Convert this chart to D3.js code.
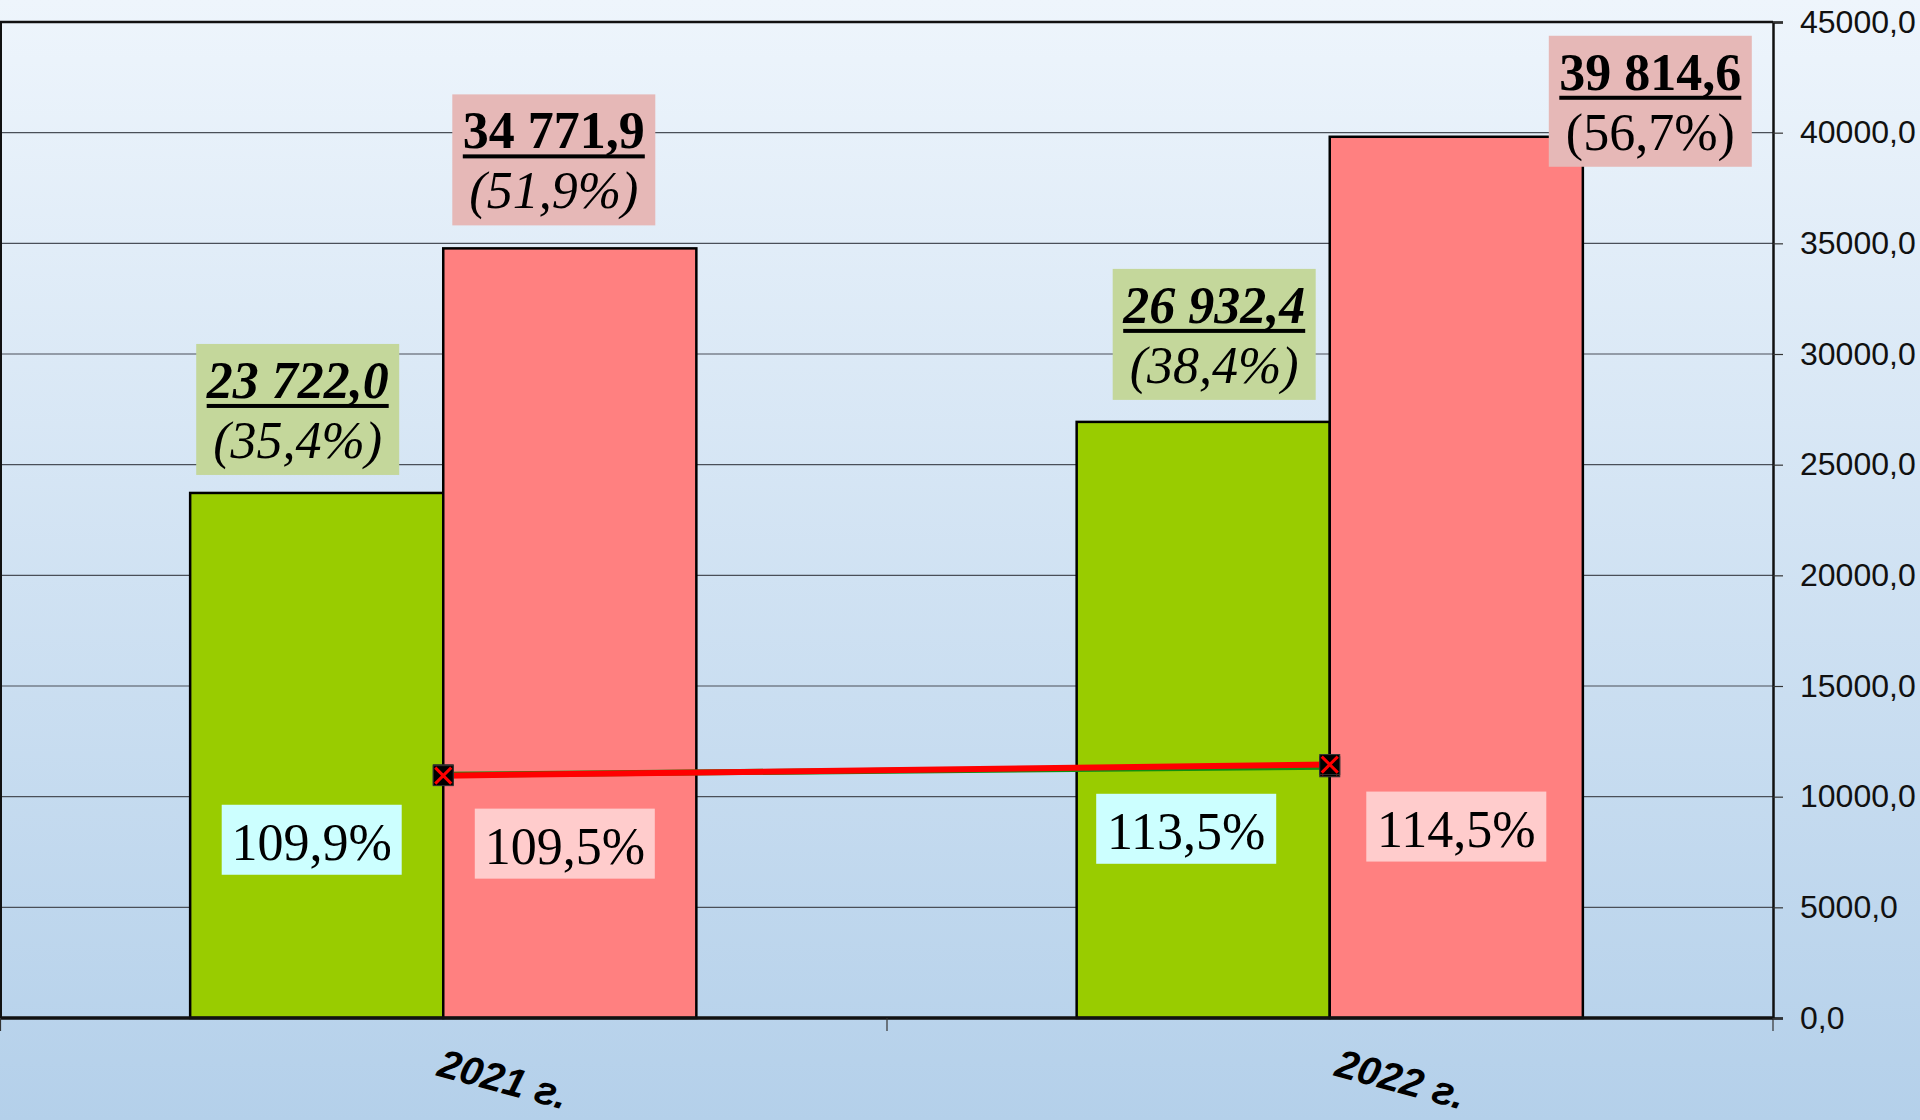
<!DOCTYPE html>
<html>
<head>
<meta charset="utf-8">
<script src="https://cdn.jsdelivr.net/npm/d3@7"></script>
<style>
  body { margin: 0; overflow: hidden; }
  svg { display: block; }
</style>
</head>
<body>
<div id="chart"></div>
<script>
// values
const categories = ["2021 г.", "2022 г."];
const greenValues = [23722.0, 26932.4];
const redValues = [34771.9, 39814.6];
const greenShares = [35.4, 38.4];
const redShares = [51.9, 56.7];
const greenGrowth = [109.9, 113.5];
const redGrowth = [109.5, 114.5];
const yTicks = [0, 5000, 10000, 15000, 20000, 25000, 30000, 35000, 40000, 45000];

// placement of the hand-moved labels (offsets from their bar)
const valueLabelLayout = [
    { series: "green", i: 0, dx: -19, dy: -18, italic1: true, italic2: true },
    { series: "red", i: 0, dx: -16, dy: -23, italic1: false, italic2: true },
    { series: "green", i: 1, dx: 11, dy: -22, italic1: true, italic2: true },
    { series: "red", i: 1, dx: 194, dy: 30, italic1: false, italic2: false }
];
const growthLabelLayout = [
    { series: "green", i: 0, dx: -5, dy: 65 },
    { series: "red", i: 0, dx: -5, dy: 68 },
    { series: "green", i: 1, dx: -17, dy: 62 },
    { series: "red", i: 1, dx: 0, dy: 62 }
];
const catLabelDx = [60, 71];

var margin = { top: 22, right: 147, bottom: 102, left: 0 },
    width = 1920 - margin.left - margin.right,
    height = 1120 - margin.top - margin.bottom;

const colors = { green: "#99cc00", red: "#ff8080" };
const boxColors = { green: "#c4d79b", red: "#e6b8b7" };
const growthBoxColors = { green: "#ccffff", red: "#ffcccc" };

const serif = "'Liberation Serif', 'Times New Roman', serif";
const sans = "'Liberation Sans', Arial, sans-serif";

const ru = d3.formatLocale({ decimal: ",", thousands: " ", grouping: [3], currency: ["", ""] });
const fmtValue = ru.format(",.1f");
const fmtTick = ru.format(".1f");

const root = d3.select("#chart").append("svg")
    .attr("width", 1920)
    .attr("height", 1120);

// background gradient over the whole picture
const grad = root.append("defs").append("linearGradient")
    .attr("id", "bg").attr("x1", 0).attr("y1", 0).attr("x2", 0).attr("y2", 1);
grad.append("stop").attr("offset", "0%").attr("stop-color", "#eef5fc");
grad.append("stop").attr("offset", "100%").attr("stop-color", "#b4d0ea");
root.append("rect").attr("width", 1920).attr("height", 1120).attr("fill", "url(#bg)");

const svg = root.append("g")
    .attr("transform", "translate(" + margin.left + "," + margin.top + ")");

const x0 = d3.scaleBand()
    .domain(categories)
    .range([0, width])
    .paddingInner(0.429)
    .paddingOuter(0.2145);

const x1 = d3.scaleBand()
    .domain(["green", "red"])
    .range([0, x0.bandwidth()]);

const y = d3.scaleLinear()
    .domain([0, 45000])
    .range([height, 0]);

// hidden secondary axis for the growth lines
const y2 = d3.scaleLinear()
    .domain([0, 450])
    .range([height, 0]);

// gridlines
svg.append("g")
    .selectAll("line")
    .data(yTicks.filter(d => d > 0 && d < 45000))
    .join("line")
    .attr("x1", 0).attr("x2", width)
    .attr("y1", d => y(d)).attr("y2", d => y(d))
    .attr("stroke", "#4a4f58")
    .attr("stroke-width", 1.2);

// plot frame: top and left
svg.append("line").attr("x1", 0).attr("x2", width).attr("y1", 0).attr("y2", 0)
    .attr("stroke", "#111").attr("stroke-width", 2.5);
svg.append("line").attr("x1", 1).attr("x2", 1).attr("y1", 0).attr("y2", height)
    .attr("stroke", "#111").attr("stroke-width", 2);

// right value axis
const yAxis = d3.axisRight(y)
    .tickValues(yTicks)
    .tickSize(10)
    .tickPadding(17)
    .tickFormat(fmtTick);
const yAxisGroup = svg.append("g")
    .attr("transform", "translate(" + width + ",0)")
    .call(yAxis);
yAxisGroup.select(".domain").attr("stroke", "#111").attr("stroke-width", 2.5);
yAxisGroup.selectAll(".tick line").attr("stroke", "#333").attr("stroke-width", 1.2);
yAxisGroup.selectAll(".tick text")
    .style("font-family", sans)
    .style("font-size", "32px")
    .attr("fill", "#111");

// bars
const barData = [];
categories.forEach((c, i) => {
    barData.push({ cat: c, key: "green", value: greenValues[i], i: i });
    barData.push({ cat: c, key: "red", value: redValues[i], i: i });
});

svg.append("g")
    .selectAll("rect")
    .data(barData)
    .join("rect")
    .attr("x", d => x0(d.cat) + x1(d.key))
    .attr("y", d => y(d.value))
    .attr("width", x1.bandwidth())
    .attr("height", d => height - y(d.value))
    .attr("fill", d => colors[d.key])
    .attr("stroke", "#000")
    .attr("stroke-width", 2.5);

// category axis at the bottom, ticks between the categories
const xTicks = svg.append("g").attr("transform", "translate(0," + height + ")");
xTicks.append("line").attr("x1", 0).attr("x2", width).attr("y1", 0).attr("y2", 0)
    .attr("stroke", "#111").attr("stroke-width", 3.5);
xTicks.selectAll(".cattick")
    .data(d3.range(categories.length + 1).map(k => Math.min(k * x0.step(), width - 0.5)))
    .join("line")
    .attr("class", "cattick")
    .attr("x1", d => d + 0.5).attr("x2", d => d + 0.5)
    .attr("y1", 0).attr("y2", 13)
    .attr("stroke", "#333").attr("stroke-width", 1.2);

xTicks.selectAll(".catlabel")
    .data(categories)
    .join("text")
    .attr("class", "catlabel")
    .attr("transform", (d, i) => "translate(" + (x0(d) + x0.bandwidth() / 2 + catLabelDx[i]) + ",61) rotate(15)")
    .attr("text-anchor", "middle")
    .attr("dy", "0.35em")
    .style("font-family", sans)
    .style("font-size", "40px")
    .style("font-weight", "bold")
    .style("font-style", "italic")
    .attr("fill", "#000")
    .text(d => d);

// growth lines (green under red)
const cx = c => x0(c) + x0.bandwidth() / 2;
const lineGen = d3.line().x(d => cx(d.cat)).y(d => y2(d.v));
const greenPts = categories.map((c, i) => ({ cat: c, v: greenGrowth[i] }));
const redPts = categories.map((c, i) => ({ cat: c, v: redGrowth[i] }));

svg.append("path").datum(greenPts).attr("d", lineGen)
    .attr("fill", "none").attr("stroke", "#109010").attr("stroke-width", 6);
svg.append("path").datum(redPts).attr("d", lineGen)
    .attr("fill", "none").attr("stroke", "#ff0000").attr("stroke-width", 6);

const markers = svg.append("g")
    .selectAll("g")
    .data(greenPts.concat(redPts))
    .join("g")
    .attr("transform", d => "translate(" + cx(d.cat) + "," + y2(d.v) + ")");
markers.append("rect")
    .attr("x", -10).attr("y", -10).attr("width", 20).attr("height", 20)
    .attr("fill", "#000").attr("stroke", "#333").attr("stroke-width", 1);
markers.append("path")
    .attr("d", "M-8,-8L8,8M8,-8L-8,8")
    .attr("stroke", "#ff0000").attr("stroke-width", 3);

// value labels with share
const valueLabels = svg.append("g")
    .selectAll("g")
    .data(valueLabelLayout)
    .join("g")
    .attr("transform", d => {
        const v = d.series === "green" ? greenValues[d.i] : redValues[d.i];
        const bx = x0(categories[d.i]) + x1(d.series) + x1.bandwidth() / 2 + d.dx;
        return "translate(" + (bx - 101.5) + "," + (y(v) + d.dy - 131) + ")";
    });
valueLabels.append("rect")
    .attr("width", 203).attr("height", 131)
    .attr("fill", d => boxColors[d.series]);
valueLabels.append("text")
    .attr("class", "v1")
    .attr("x", 101.5).attr("y", 54)
    .attr("text-anchor", "middle")
    .style("font-family", serif)
    .style("font-size", "52px")
    .style("font-weight", "bold")
    .style("font-style", d => d.italic1 ? "italic" : "normal")
    .text(d => fmtValue(d.series === "green" ? greenValues[d.i] : redValues[d.i]));
valueLabels.each(function () {
    const g = d3.select(this);
    const len = g.select("text.v1").node().getComputedTextLength();
    g.append("rect")
        .attr("x", 101.5 - len / 2).attr("y", 60)
        .attr("width", len).attr("height", 4)
        .attr("fill", "#000");
});
valueLabels.append("text")
    .attr("x", 101.5).attr("y", 114)
    .attr("text-anchor", "middle")
    .style("font-family", serif)
    .style("font-size", "52px")
    .style("font-style", d => d.italic2 ? "italic" : "normal")
    .text(d => "(" + ru.format(".1f")(d.series === "green" ? greenShares[d.i] : redShares[d.i]) + "%)");

// growth labels inside the bars
const growthLabels = svg.append("g")
    .selectAll("g")
    .data(growthLabelLayout)
    .join("g")
    .attr("transform", d => {
        const v = d.series === "green" ? greenGrowth[d.i] : redGrowth[d.i];
        const bx = x0(categories[d.i]) + x1(d.series) + x1.bandwidth() / 2 + d.dx;
        return "translate(" + (bx - 90) + "," + (y2(v) + d.dy - 35) + ")";
    });
growthLabels.append("rect")
    .attr("width", 180).attr("height", 70)
    .attr("fill", d => growthBoxColors[d.series]);
growthLabels.append("text")
    .attr("x", 90).attr("y", 55)
    .attr("text-anchor", "middle")
    .style("font-family", serif)
    .style("font-size", "52px")
    .text(d => ru.format(".1f")(d.series === "green" ? greenGrowth[d.i] : redGrowth[d.i]) + "%");
</script>
</body>
</html>
